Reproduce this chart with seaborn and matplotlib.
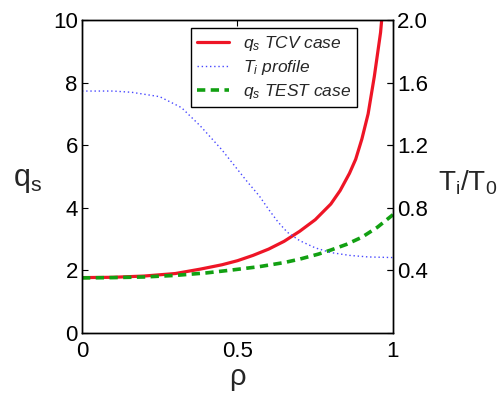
import numpy as np
import pandas as pd
import seaborn as sns
import matplotlib
matplotlib.use("Agg")
import matplotlib.pyplot as plt

# values
rho_tcv = [0.0, 0.1, 0.2, 0.3, 0.38, 0.45, 0.5, 0.55, 0.6, 0.65, 0.7, 0.75,
           0.8, 0.83, 0.86, 0.88, 0.9, 0.92, 0.94, 0.96, 0.98, 1.0]
qs_tcv = [1.77, 1.78, 1.82, 1.90, 2.04, 2.18, 2.31, 2.48, 2.68, 2.93, 3.25, 3.62,
          4.12, 4.55, 5.10, 5.55, 6.20, 7.00, 8.20, 9.60, 11.8, 14.5]

rho_test = [0.0, 0.1, 0.2, 0.3, 0.4, 0.48, 0.57, 0.65, 0.7, 0.76, 0.8, 0.85,
            0.9, 0.95, 1.0]
qs_test = [1.76, 1.77, 1.79, 1.84, 1.92, 2.01, 2.12, 2.25, 2.36, 2.52, 2.65, 2.83,
           3.06, 3.38, 3.78]

rho_ti = [0.0, 0.1, 0.16, 0.25, 0.32, 0.38, 0.45, 0.49, 0.53, 0.57, 0.6, 0.63,
          0.66, 0.7, 0.75, 0.8, 0.86, 0.92, 1.0]
ti_t0 = [1.546, 1.546, 1.538, 1.51, 1.44, 1.324, 1.17, 1.07, 0.97, 0.876, 0.79,
         0.71, 0.644, 0.59, 0.544, 0.514, 0.496, 0.486, 0.482]

q_ticks = [0, 2, 4, 6, 8, 10]
t_ticks = [0.4, 0.8, 1.2, 1.6, 2.0]
x_ticks = [0, 0.5, 1]
x_ticklabels = ["0", "0.5", "1"]

df_tcv = pd.DataFrame({"rho": rho_tcv, "q": qs_tcv})
df_test = pd.DataFrame({"rho": rho_test, "q": qs_test})
df_ti = pd.DataFrame({"rho": rho_ti, "T": ti_t0})

sns.set_style("white")
plt.rcParams["font.family"] = ["Liberation Sans", "DejaVu Sans"]
plt.rcParams["mathtext.fontset"] = "custom"
plt.rcParams["mathtext.rm"] = "Liberation Sans"
plt.rcParams["mathtext.it"] = "Liberation Sans:italic"

red = "#ee1526"
green = "#12a012"
blue = "#4848ff"

fig = plt.figure(figsize=(5.02, 3.94), dpi=100)
ax = fig.add_axes([82 / 502, 61 / 394, 311 / 502, 313 / 394])
ax2 = ax.twinx()

sns.lineplot(data=df_tcv, x="rho", y="q", ax=ax, color=red, lw=2.3,
             label=r"$q_s$ TCV case", legend=False)
sns.lineplot(data=df_ti, x="rho", y="T", ax=ax2, color=blue, lw=1.0,
             linestyle=(0, (1, 2)), label=r"$T_i$ profile", legend=False)
sns.lineplot(data=df_test, x="rho", y="q", ax=ax, color=green, lw=2.6,
             linestyle=(0, (2.3, 1.5)), label=r"$q_s$ TEST case", legend=False)

ax.set_xlim(0, 1)
ax.set_ylim(0, 10)
ax2.set_ylim(0, 2)
ax.set_xticks(x_ticks)
ax.set_xticklabels(x_ticklabels)
ax.set_yticks(q_ticks)
ax2.set_yticks(t_ticks)
ax2.set_yticklabels([f"{t:.1f}" for t in t_ticks])

for a in (ax, ax2):
    for s in a.spines.values():
        s.set_color("black")
        s.set_linewidth(1.0)
ax.tick_params(axis="both", direction="in", length=4, width=0.8, labelsize=16,
               colors="black", top=True, right=True)
ax.tick_params(axis="x", pad=6)
ax.tick_params(axis="y", pad=3)
ax2.tick_params(axis="y", direction="in", length=4, width=0.8, labelsize=16,
                colors="black", pad=3)

ax.set_xlabel("ρ", fontsize=21, va="center")
ax.xaxis.set_label_coords(0.5, -0.14)
ax.set_ylabel(r"$\mathrm{q_s}$", fontsize=22, rotation=0, va="center", ha="center")
ax.yaxis.set_label_coords(-0.175, 0.49)
ax2.set_ylabel(r"$\mathrm{T_i/T_0}$", fontsize=20, rotation=0, va="center", ha="center")
ax2.yaxis.set_label_coords(1.24, 0.48)

h1, l1 = ax.get_legend_handles_labels()
h2, l2 = ax2.get_legend_handles_labels()
handles = [h1[0], h2[0], h1[1]]
labels = [l1[0], l2[0], l1[1]]
leg = ax2.legend(handles, labels, loc="upper right", bbox_to_anchor=(0.884, 0.976),
                 prop={"size": 12.5, "style": "italic"}, frameon=True, fancybox=False,
                 edgecolor="black", framealpha=1, handlelength=1.8, borderpad=0.35,
                 labelspacing=0.3, handletextpad=0.8, borderaxespad=0)
leg.get_frame().set_linewidth(1.0)

fig.savefig("out.png", dpi=100)
